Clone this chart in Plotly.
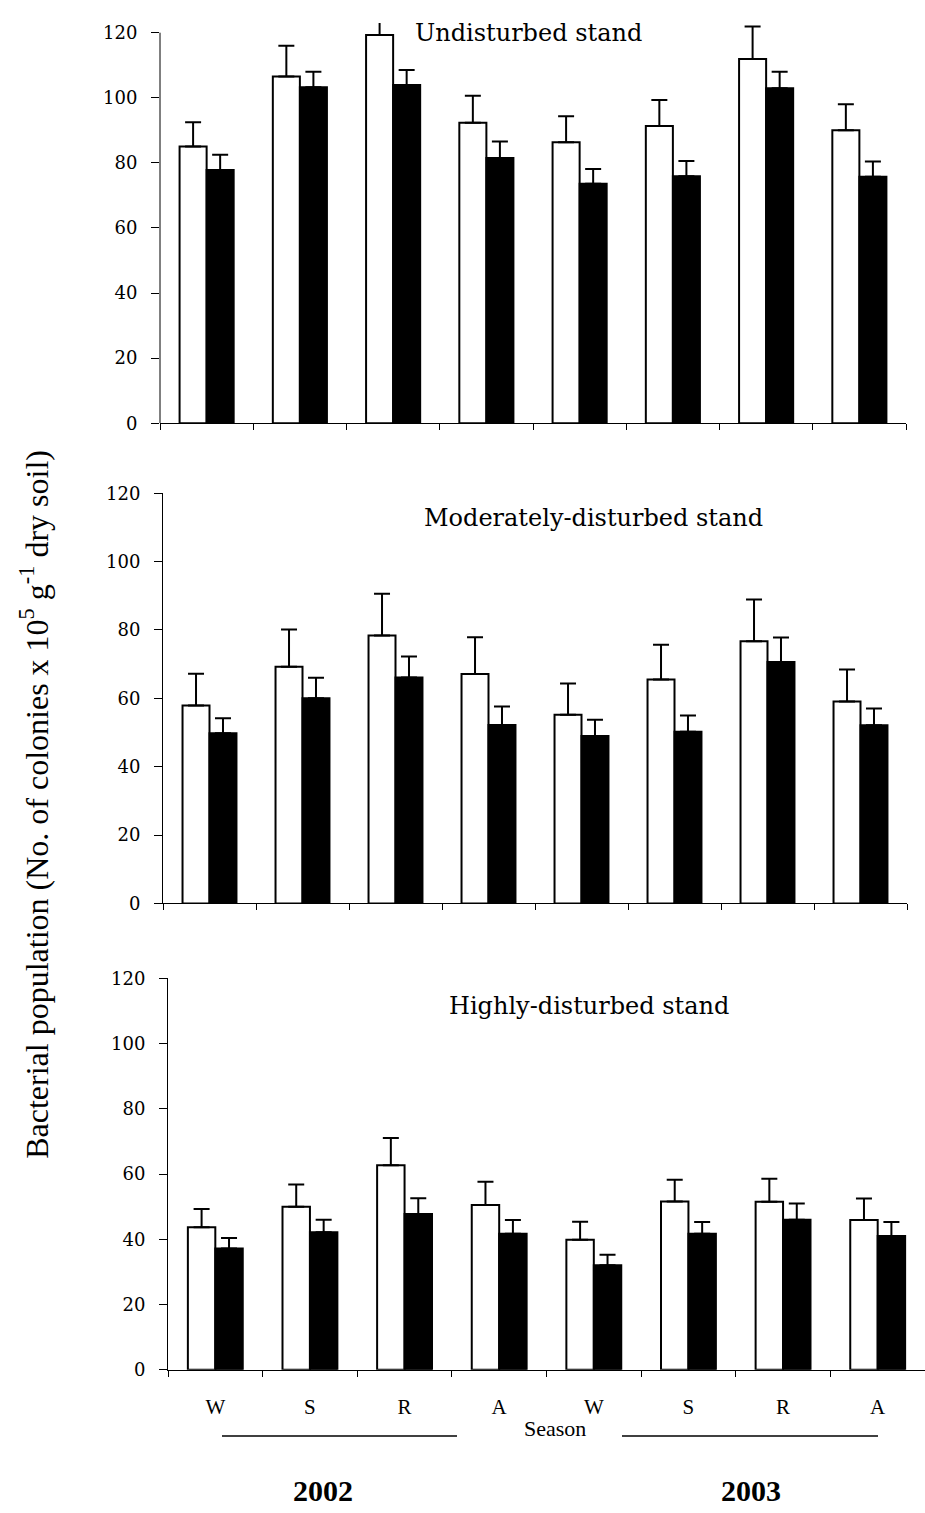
import plotly.graph_objects as go

categories = ["W 2002", "S 2002", "R 2002", "A 2002", "W 2003", "S 2003", "R 2003", "A 2003"]
season_labels = ["W", "S", "R", "A", "W", "S", "R", "A"]
years = ["2002", "2003"]
y_ticks = [0, 20, 40, 60, 80, 100, 120]

panel_titles = ["Undisturbed stand", "Moderately-disturbed stand", "Highly-disturbed stand"]

undist_white = [85.0, 106.5, 119.3, 92.3, 86.3, 91.3, 111.9, 90.0]
undist_white_err = [7.5, 9.5, 5.0, 8.3, 8.0, 8.0, 10.0, 8.0]
undist_black = [77.8, 103.2, 103.9, 81.5, 73.6, 75.9, 102.9, 75.7]
undist_black_err = [4.7, 4.8, 4.6, 5.1, 4.5, 4.7, 5.1, 4.7]

mod_white = [57.9, 69.2, 78.4, 67.1, 55.2, 65.5, 76.7, 59.1]
mod_white_err = [9.3, 10.9, 12.2, 10.8, 9.1, 10.2, 12.2, 9.3]
mod_black = [49.8, 60.0, 66.1, 52.2, 49.0, 50.2, 70.6, 52.1]
mod_black_err = [4.4, 6.0, 6.1, 5.4, 4.7, 4.8, 7.2, 4.9]

high_white = [43.7, 50.0, 62.7, 50.5, 39.9, 51.6, 51.5, 45.9]
high_white_err = [5.6, 6.8, 8.4, 7.2, 5.5, 6.7, 7.1, 6.6]
high_black = [37.2, 42.2, 47.8, 41.7, 32.1, 41.7, 46.0, 41.0]
high_black_err = [3.2, 3.8, 4.8, 4.2, 3.2, 3.6, 5.0, 4.3]

W, H = 925, 1513
SERIF = "DejaVu Serif"
TIMES = "Liberation Serif"

panels = [
    (undist_white, undist_white_err, undist_black, undist_black_err),
    (mod_white, mod_white_err, mod_black, mod_black_err),
    (high_white, high_white_err, high_black, high_black_err),
]

# layout geometry (pixels)
x_px = [(160, 906), (163, 907), (168, 925)]
y_px = [(12.1, 418), (489, 905), (981, 1378)]
y_ranges = [[0, 123], [0, 120], [0, 120]]

fig = go.Figure()
layout = dict(
    width=W, height=H, autosize=False,
    margin=dict(l=0, r=0, t=0, b=0),
    paper_bgcolor="white", plot_bgcolor="white",
    barmode="group", bargap=0.42, bargroupgap=0.0,
    showlegend=False,
)

def err(arr):
    return dict(type="data", array=arr, arrayminus=[0] * len(arr), symmetric=False,
                color="black", thickness=2, width=8, visible=True)

for i, (wv, we, bv, be) in enumerate(panels):
    n = "" if i == 0 else str(i + 1)
    xa, ya = "x" + n, "y" + n
    fig.add_trace(go.Bar(x=categories, y=wv, error_y=err(we), xaxis=xa, yaxis=ya,
                         marker=dict(color="white", line=dict(color="black", width=2)),
                         name="white"))
    fig.add_trace(go.Bar(x=categories, y=bv, error_y=err(be), xaxis=xa, yaxis=ya,
                         marker=dict(color="black", line=dict(color="black", width=2)),
                         name="black"))
    x0, x1 = x_px[i]
    yt, yb = y_px[i]
    layout["xaxis" + n] = dict(
        domain=[x0 / W, x1 / W], anchor=ya, type="category",
        categoryorder="array", categoryarray=categories,
        tickmode="array", tickvals=categories, ticktext=season_labels,
        tickson="boundaries", ticks="outside", ticklen=6, tickcolor="black", tickwidth=1,
        showline=True, linecolor="black", linewidth=1,
        showgrid=False, zeroline=False,
        showticklabels=(i == 2),
        tickfont=dict(family=TIMES, size=21, color="black"),
        ticklabelstandoff=18,
        range=[-0.5, 7.5],
    )
    layout["yaxis" + n] = dict(
        domain=[1 - yb / H, 1 - yt / H], anchor=xa,
        range=y_ranges[i], tickmode="array", tickvals=y_ticks,
        ticks="outside", ticklen=8, tickcolor="black", tickwidth=1,
        showline=(i != 0), linecolor="black", linewidth=1,
        showgrid=False, zeroline=False,
        tickfont=dict(family=SERIF, size=18, color="black"),
        ticklabelstandoff=10,
    )

fig.update_layout(**layout)

# y axis line for the top panel drawn only up to 120 (error bars overshoot the axis)
fig.add_shape(type="line", xref="x domain", yref="y", x0=0, x1=0, y0=0, y1=120,
              line=dict(color="black", width=1))

ann = []
title_pos = [(528, 22), (593, 514), (589, 1009)]
for t, (px, py) in zip(panel_titles, title_pos):
    ann.append(dict(text=t, x=px / W, y=1 - py / H, xref="paper", yref="paper",
                    showarrow=False, xanchor="center", yanchor="middle",
                    font=dict(family=SERIF, size=24, color="black")))

ann.append(dict(text="Bacterial population (No. of colonies x 10<sup>5</sup> g<sup>-1</sup> dry soil)",
                x=34 / W, y=1 - 805 / H, xref="paper", yref="paper", showarrow=False,
                textangle=-90, xanchor="center", yanchor="middle",
                font=dict(family=TIMES, size=32, color="black")))
ann.append(dict(text="Season", x=555 / W, y=1 - 1437 / H, xref="paper", yref="paper",
                showarrow=False, xanchor="center", yanchor="middle",
                font=dict(family=TIMES, size=22, color="black")))
for yr, px in zip(years, [323, 751]):
    ann.append(dict(text="<b>" + yr + "</b>", x=px / W, y=1 - 1500 / H, xref="paper", yref="paper",
                    showarrow=False, xanchor="center", yanchor="middle",
                    font=dict(family=TIMES, size=30, color="black")))
fig.update_layout(annotations=ann)

for (a, b) in [(222, 457), (622, 878)]:
    fig.add_shape(type="line", xref="paper", yref="paper", x0=a / W, x1=b / W,
                  y0=1 - 1445 / H, y1=1 - 1445 / H, line=dict(color="black", width=1.5))

fig.write_html("out.html", config={"displayModeBar": False},
               post_script="document.body.style.margin='0';document.body.style.overflow='hidden';")
